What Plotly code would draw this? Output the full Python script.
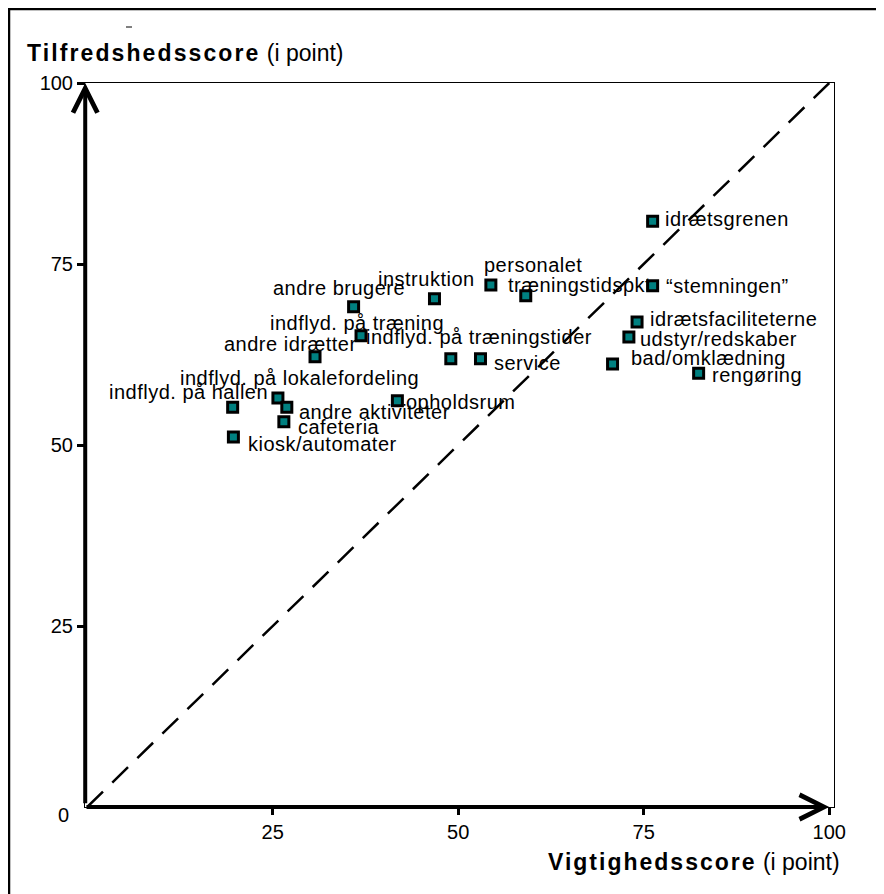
import plotly.graph_objects as go

# ---- data ----
items = [
    "idrætsgrenen", "“stemningen”", "personalet", "træningstidspkt", "instruktion",
    "andre brugere", "indflyd. på træning", "andre idrætter", "indflyd. på træningstider",
    "service", "idrætsfaciliteterne", "udstyr/redskaber", "bad/omklædning", "rengøring",
    "indflyd. på lokalefordeling", "andre aktiviteter", "indflyd. på hallen", "opholdsrum",
    "cafeteria", "kiosk/automater",
]
importance = [76.2, 76.2, 54.4, 59.1, 46.8, 35.9, 36.9, 30.7, 49.0, 53.0,
              74.1, 73.0, 70.8, 82.4, 25.7, 26.9, 19.6, 41.8, 26.5, 19.7]
satisfaction = [80.9, 72.0, 72.1, 70.6, 70.2, 69.1, 65.1, 62.2, 61.9, 61.9,
                67.0, 64.9, 61.2, 59.9, 56.5, 55.2, 55.2, 56.1, 53.2, 51.1]
tick_vals = [25, 50, 75, 100]
tick_text = ["25", "50", "75", "100"]

# ---- label placement (anchor, x pixel shift, y pixel shift) ----
label_pos = [
    ("left", 10, 2), ("left", 11, 0), ("center", 42, 20), ("left", -20, 11),
    ("center", -8, 20), ("center", -15, 19), ("center", -4, 13), ("center", -25, 13),
    ("center", 28, 22), ("left", 12, -4), ("left", 11, 3), ("left", 9, -2),
    ("left", 16, 6), ("left", 11, -2), ("center", 22, 20), ("left", 10, -5),
    ("center", -44, 15), ("left", 7, -1), ("left", 12, -5), ("left", 13, -7),
]

FONT = "Liberation Sans, Arial, sans-serif"
OFF = 8                      # page body margin
W, H = 876, 886
ML, MR, MT, MB = 77, 50, 75, 87
pw = W - ML - MR
ph = H - MT - MB
PXU = 7.42                   # pixels per x unit


def px_x(page_x):
    return (page_x - OFF - ML) / pw


def px_y(page_y):
    return (H - MB - (page_y - OFF)) / ph


def spaced(txt, sp):
    return '<span style="letter-spacing:%spx">%s</span>' % (sp, txt)


fig = go.Figure()

# diagonal reference line
fig.add_trace(go.Scatter(
    x=[0, 100], y=[0, 100], mode="lines",
    line=dict(color="black", width=2.5, dash="22px,13px"),
    hoverinfo="skip", showlegend=False,
))

# points
fig.add_trace(go.Scatter(
    x=importance, y=satisfaction, mode="markers",
    marker=dict(symbol="square", size=10, color="#008080",
                line=dict(color="black", width=3)),
    hoverinfo="skip", showlegend=False, cliponaxis=False,
))

annotations = []
for name, xv, yv, (anc, dx, dy) in zip(items, importance, satisfaction, label_pos):
    annotations.append(dict(
        x=xv, y=yv, xref="x", yref="y", text=spaced(name, 0.5), showarrow=False,
        xanchor=anc, yanchor="middle", xshift=dx, yshift=dy,
        font=dict(family=FONT, size=20, color="black"),
    ))

# axis arrows
annotations.append(dict(x=100, y=0, ax=-0.3, ay=0, xref="x", yref="y", axref="x", ayref="y",
                        text="", showarrow=True, arrowhead=5, arrowwidth=4, arrowsize=1.2,
                        arrowcolor="black", standoff=0))
annotations.append(dict(x=-0.27, y=100, ax=-0.27, ay=0.3, xref="x", yref="y", axref="x", ayref="y",
                        text="", showarrow=True, arrowhead=5, arrowwidth=4, arrowsize=1.2,
                        arrowcolor="black", standoff=0))

# origin label
annotations.append(dict(x=0, y=0, xref="paper", yref="paper", text="0", showarrow=False,
                        xanchor="center", yanchor="middle", xshift=-22, yshift=-8,
                        font=dict(family=FONT, size=20, color="black")))

# axis titles
annotations.append(dict(x=0, y=1, xref="paper", yref="paper",
                        text="<b>" + spaced("Tilfredshedsscore", 2.1) + "</b> (i point)",
                        showarrow=False, xanchor="left", yanchor="middle", xshift=-60, yshift=30,
                        font=dict(family=FONT, size=23, color="black")))
annotations.append(dict(x=1, y=0, xref="paper", yref="paper",
                        text="<b>" + spaced("Vigtighedsscore", 2.0) + "</b> (i point)",
                        showarrow=False, xanchor="right", yanchor="middle", xshift=8, yshift=-55,
                        font=dict(family=FONT, size=23, color="black")))

shapes = [
    # outer frame
    dict(type="rect", xref="paper", yref="paper",
         x0=px_x(9), x1=1.2, y0=-0.2, y1=px_y(9),
         line=dict(color="black", width=2.5)),
    # stray mark at top
    dict(type="line", xref="paper", yref="paper",
         x0=px_x(126), x1=px_x(132), y0=px_y(27), y1=px_y(27),
         line=dict(color="black", width=1)),
]

axis_common = dict(
    tickvals=tick_vals, ticktext=tick_text, ticks="outside", ticklen=7, tickwidth=3,
    tickcolor="black", showgrid=False, zeroline=False, showline=True, linewidth=1,
    linecolor="black", mirror=True,
    tickfont=dict(family=FONT, size=20, color="black"),
)

fig.update_layout(
    width=W, height=H, autosize=False,
    margin=dict(l=ML, r=MR, t=MT, b=MB),
    paper_bgcolor="white", plot_bgcolor="white",
    xaxis=dict(range=[-0.3, -0.3 + pw / PXU], **axis_common),
    yaxis=dict(range=[0, 100], **axis_common),
    annotations=annotations, shapes=shapes, showlegend=False,
)

fig.write_html("out.html")
